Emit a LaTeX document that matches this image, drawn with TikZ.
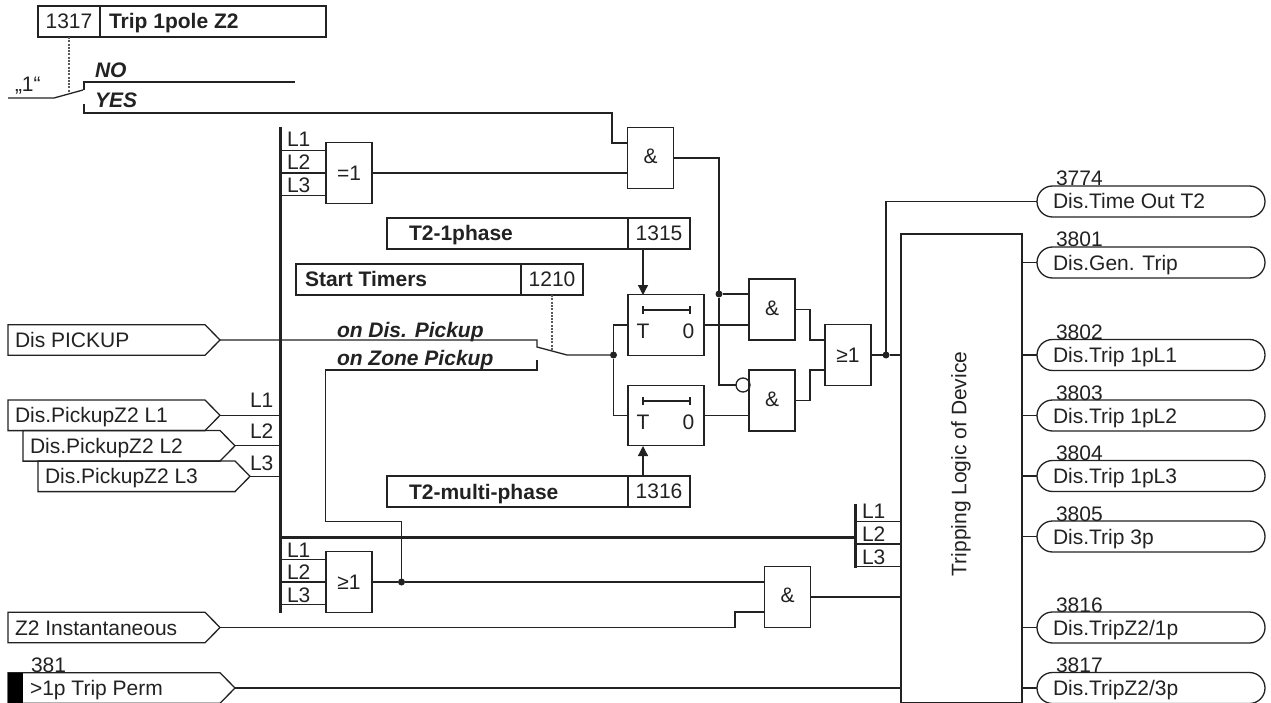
\documentclass[tikz,border=0pt]{standalone}
\usepackage{fontspec}
\setmainfont{Liberation Sans}
\usetikzlibrary{arrows.meta,shapes.misc}
\definecolor{ink}{HTML}{222222}
\tikzset{
  x=1pt,y=-1pt,
  every path/.style={line width=1.3pt},
  every node/.style={text=ink,font=\fontsize{21}{21}\selectfont,inner sep=0pt,outer sep=0pt},
  box/.style={draw,rectangle,line width=1.3pt},
  txt/.style={anchor=base west},
  bold/.style={anchor=base west,font=\fontsize{21}{21}\selectfont\bfseries},
  boldit/.style={anchor=base west,font=\fontsize{21}{21}\selectfont\bfseries\itshape},
  num/.style={anchor=base},
  gate/.style={box,minimum width=46pt,minimum height=61pt},
  timer/.style={box,minimum width=76pt,minimum height=60.5pt},
  pill/.style={draw,rounded rectangle,line width=1.3pt,minimum width=228pt,minimum height=31pt,anchor=west},
  dot/.style={circle,fill=ink,draw=none,minimum size=7pt},
  bus/.style={line width=3pt},
  ctl/.style={line width=1.2pt,draw=ink!75,dash pattern=on 2pt off 1.3pt},
  arr/.style={-{Triangle[length=10pt,width=10pt]}},
}
% input signal: name, left, tip, y, text x, text
\newcommand{\insig}[6]{%
  \draw (#2,#4-15.3) -- (#3-15,#4-15.3) -- (#3,#4) -- (#3-15,#4+15.3) -- (#2,#4+15.3) -- cycle;
  \coordinate (#1) at (#3,#4);
  \node[txt] (#1-t) at (#5,#4+7.5) {#6};}
% output pill: name, y, number, text
\newcommand{\outsig}[4]{%
  \node[pill] (#1) at (1037,#2) {};
  \node[txt] (#1-n) at (1056,#2-15.5) {#3};
  \node[txt] (#1-t) at (1053,#2+7.5) {#4};}
\begin{document}
\begin{tikzpicture}[color=ink]
\useasboundingbox (0,0) rectangle (1271,703);
\fill[white,draw=none] (0,0) rectangle (1271,703);

% setting boxes
\node[box,minimum width=62pt,minimum height=31pt] (n1317) at (69,21.5) {1317};
\node[box,minimum width=226pt,minimum height=31pt,anchor=west] (s1317) at (n1317.east) {};
\node[bold] (s1317t) at (109,28.5) {Trip 1pole Z2};

\node[box,minimum width=241pt,minimum height=31pt] (s1315) at (507.5,233.5) {};
\node[box,minimum width=62pt,minimum height=31pt,anchor=west] (n1315) at (s1315.east) {1315};
\node[bold] (s1315t) at (409,241) {T2-1phase};

\node[box,minimum width=225pt,minimum height=31pt] (s1210) at (408.5,279.5) {};
\node[box,minimum width=62pt,minimum height=31pt,anchor=west] (n1210) at (s1210.east) {1210};
\node[bold] (s1210t) at (305,287) {Start Timers};

\node[box,minimum width=241pt,minimum height=31pt] (s1316) at (507.5,491.5) {};
\node[box,minimum width=62pt,minimum height=31pt,anchor=west] (n1316) at (s1316.east) {1316};
\node[bold] (s1316t) at (409,499) {T2-multi-phase};

% top switch
\coordinate (one) at (8,98);
\coordinate (sw0) at (54,98);
\coordinate (sw1) at (83,90);
\coordinate (no0) at (84,82);
\coordinate (noe) at (295,82);
\coordinate (yes0) at (84,104);
\coordinate (yes1) at (84,113);
\draw (one) -- (sw0) -- (sw1);
\draw (84,90) -- (no0) -- (noe);
\draw[ctl] (n1317.south) -- (69,92);
\node[txt] (lone) at (15,92) {„1“};
\node[boldit] (lno) at (95,78) {NO};
\node[boldit] (lyes) at (95,108) {YES};

% buses
\coordinate (busT) at (280,127);
\coordinate (busB) at (280,613);
\coordinate (bhW) at (280,537);
\coordinate (bhE) at (855.5,537);
\coordinate (rT) at (855.5,504);
\coordinate (rB) at (855.5,567.5);
\draw[bus] (busT) -- (busB);
\draw[bus] (bhW) -- (bhE);
\draw[bus] (rT) -- (rB);

% gates
\node[gate] (xor) at (349,173) {=1};
\node[gate] (and0) at (650.5,158) {\raisebox{3pt}{\&}};
\node[timer] (t1) at (666,325) {};
\node[timer] (t2) at (666,415.5) {};
\node[gate] (and1) at (772,309.5) {\raisebox{3pt}{\&}};
\node[gate] (and2) at (772,400.5) {\raisebox{3pt}{\&}};
\node[gate] (or1) at (848,355) {≥1};
\node[gate] (or2) at (349,582) {≥1};
\node[gate] (and3) at (787.5,597) {\raisebox{3pt}{\&}};
\node[box,minimum width=121pt,minimum height=468.5pt] (trip) at (961.5,468.25) {};
\node[rotate=90] (tript) at (961,464) {Tripping Logic of Device};

% timer symbols
\foreach \yy in {310,401}{
  \draw[line width=1.1pt] (643,\yy) -- (690,\yy);
  \draw[line width=1.1pt] (643,\yy-4) -- (643,\yy+4);
  \draw[line width=1.1pt] (690,\yy-4) -- (690,\yy+4);
}
\node[num] (t1T) at (643,338.5) {T};
\node[num] (t10) at (688.5,338.5) {0};
\node[num] (t2T) at (643,429) {T};
\node[num] (t20) at (688.5,429) {0};

% inputs
\insig{pick}{8}{220}{340}{15}{Dis PICKUP}
\insig{p1}{8}{220}{415.3}{15}{Dis.PickupZ2 L1}
\insig{p2}{23}{235}{445.8}{30}{Dis.PickupZ2 L2}
\insig{p3}{38}{250}{476.3}{45}{Dis.PickupZ2 L3}
\insig{zi}{8}{220}{627.5}{15}{Z2 Instantaneous}
\insig{perm}{8}{235}{688}{30}{>1p Trip Perm}
\fill[black,draw=none] (8,673) rectangle (23,703);
\node[txt] (n381) at (31,672) {381};

% outputs
\outsig{o1}{201.5}{3774}{Dis.Time Out T2}
\outsig{o2}{262.5}{3801}{Dis.Gen. Trip}
\outsig{o3}{355}{3802}{Dis.Trip 1pL1}
\outsig{o4}{415.5}{3803}{Dis.Trip 1pL2}
\outsig{o5}{476}{3804}{Dis.Trip 1pL3}
\outsig{o6}{536.5}{3805}{Dis.Trip 3p}
\outsig{o7}{627.5}{3816}{Dis.TripZ2/1p}
\outsig{o8}{688}{3817}{Dis.TripZ2/3p}
\foreach \o in {o2,o3,o4,o5,o6,o7,o8}{
  \draw (\o.west) -- (\o.west -| trip.east);
}

% input bus connections
\draw (p1) -- (p1 -| busT);
\draw (p2) -- (p2 -| busT);
\draw (p3) -- (p3 -| busT);
\node[txt] (la1) at (250,407) {L1};
\node[txt] (la2) at (250,438) {L2};
\node[txt] (la3) at (250,470) {L3};

% inputs on the three-phase gates
\coordinate (rowR) at (901,544);
\foreach \d in {22.5,0,-22.5}{
  \draw ([yshift=\d pt]xor.west) -- ([yshift=\d pt]xor.west -| busT);
  \draw ([yshift=\d pt]or2.west) -- ([yshift=\d pt]or2.west -| busT);
  \draw ([yshift=\d pt]rowR) -- ([yshift=\d pt]rowR -| rT);
}
\node[txt] (lb1) at (287,147) {L1};
\node[txt] (lb2) at (287,170) {L2};
\node[txt] (lb3) at (287,193) {L3};
\node[txt] (lc1) at (287,557) {L1};
\node[txt] (lc2) at (287,579.5) {L2};
\node[txt] (lc3) at (287,602.5) {L3};
\node[txt] (ld1) at (862,518) {L1};
\node[txt] (ld2) at (862,541) {L2};
\node[txt] (ld3) at (862,564.5) {L3};

% logic wiring
\draw (yes0) -- (yes1) -- (612,113) -- (612,143) -- ([yshift=15pt]and0.west);
\draw (xor.east) -- (xor.east -| and0.west);

% and0 output to and1, and2
\node[dot] (d1) at (719,294) {};
\node[circle,draw,line width=1.3pt,minimum size=14pt] (inv) at (743,385) {};
\draw (and0.east) -- (719,158) -- (d1) -- (719,385) -- (inv.west);
\draw (d1) -- ([yshift=15.5pt]and1.west);
\draw (t1.east) -- ([yshift=-15.5pt]and1.west);
\draw (t2.east) -- ([yshift=-15pt]and2.west);

% and -> or
\draw (and1.east) -- (810,309.5) -- (810,340) -- ([yshift=15pt]or1.west);
\draw (and2.east) -- (810,400.5) -- (810,370) -- ([yshift=-15pt]or1.west);

% or1 output
\node[dot] (d2) at (886,355) {};
\draw (or1.east) -- (d2) -- (trip.west |- d2);
\draw (d2) -- (886,201.5) -- (o1.west);

% setting arrows
\draw[arr] (643,249) -- (643,295);
\draw[arr] (643,476) -- (643,446);

% timer start switch
\coordinate (swa) at (537,340);
\coordinate (swb) at (537,347);
\coordinate (swz) at (537,360);
\coordinate (swc) at (567,355);
\node[dot] (d3) at (613.5,355) {};
\draw (pick) -- (swa) -- (swb) -- (swc) -- (d3);
\draw[ctl] (n1210.south) -- (552,351);
\draw (swz) -- (537,370) -- (325.5,370) -- (325.5,521.5) -- (401.5,521.5) -- (401.5,582);
\draw (t1.west) -- (613.5,325) -- (d3) -- (613.5,415.5) -- (t2.west);
\node[boldit] (lod) at (337,337) {on Dis. Pickup};
\node[boldit] (loz) at (337,365) {on Zone Pickup};

% or2 output
\node[dot] (d4) at (401.5,582) {};
\draw (or2.east) -- (d4) -- (or2.east -| and3.west);
\draw (zi) -- (735,627.5) -- (735,612) -- ([yshift=-15pt]and3.west);
\draw (and3.east) -- (and3.east -| trip.west);
\draw (perm) -- (perm -| trip.west);
\end{tikzpicture}
\end{document}
